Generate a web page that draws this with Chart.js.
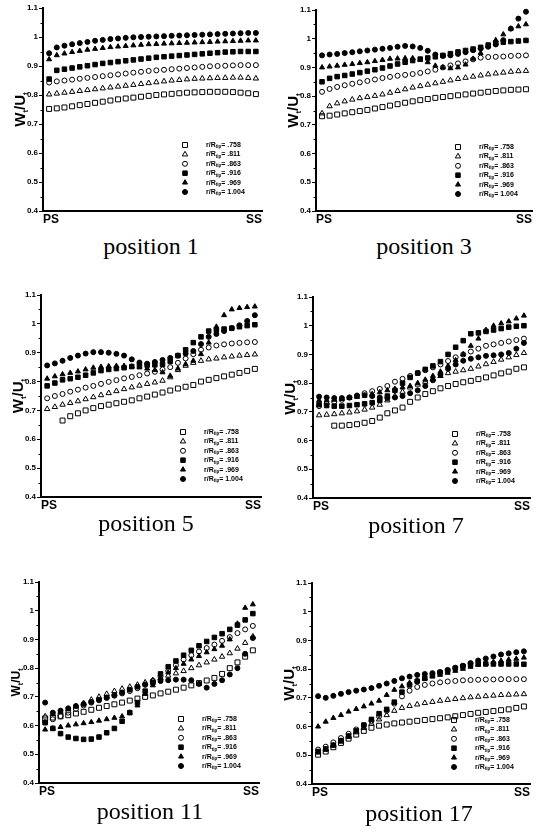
<!DOCTYPE html>
<html><head><meta charset="utf-8">
<script src="https://cdn.jsdelivr.net/npm/chart.js@4/dist/chart.umd.min.js"></script>
<style>
html,body{margin:0;padding:0;background:#fff;overflow:hidden;width:537px;height:833px;}
canvas{position:absolute;}
.cap{position:absolute;font-family:'Liberation Serif','Times New Roman',serif;font-size:24px;line-height:24px;color:#000;transform:translate(-50%,-50%);white-space:nowrap;}
</style></head><body>
<script>
// ---------- data ----------
const radii = ['.758', '.811', '.863', '.916', '.969', '1.004'];
const xTickLabels = ['PS', 'SS'];
const yTicks = [0.4, 0.5, 0.6, 0.7, 0.8, 0.9, 1.0, 1.1];
const yMinorTicks = [0.45, 0.55, 0.65, 0.75, 0.85, 0.95, 1.05];
const captions = ['position 1', 'position 3', 'position 5', 'position 7', 'position 11', 'position 17'];

const p1_758  = [0.752,0.754,0.757,0.761,0.765,0.769,0.773,0.777,0.781,0.785,0.788,0.791,0.794,0.797,0.8,0.802,0.804,0.806,0.808,0.809,0.81,0.811,0.811,0.811,0.81,0.808,0.806,0.803];
const p1_811  = [0.802,0.805,0.808,0.811,0.814,0.817,0.82,0.823,0.826,0.829,0.832,0.835,0.838,0.841,0.844,0.847,0.85,0.852,0.854,0.856,0.857,0.858,0.859,0.859,0.86,0.86,0.859,0.857];
const p1_863  = [0.843,0.847,0.85,0.853,0.856,0.859,0.862,0.865,0.868,0.871,0.874,0.877,0.88,0.883,0.885,0.887,0.889,0.891,0.893,0.895,0.897,0.899,0.9,0.901,0.902,0.903,0.903,0.903];
const p1_916  = [0.855,0.885,0.889,0.893,0.897,0.901,0.905,0.909,0.912,0.915,0.918,0.921,0.924,0.927,0.93,0.932,0.934,0.936,0.938,0.94,0.942,0.944,0.946,0.948,0.949,0.95,0.95,0.95];
const p1_969  = [0.923,0.937,0.943,0.948,0.952,0.956,0.959,0.962,0.965,0.967,0.969,0.971,0.973,0.975,0.976,0.977,0.978,0.979,0.98,0.981,0.982,0.983,0.984,0.985,0.986,0.987,0.988,0.988];
const p1_1004 = [0.944,0.964,0.97,0.975,0.979,0.983,0.987,0.99,0.993,0.995,0.997,0.999,1.0,1.001,1.002,1.003,1.004,1.005,1.006,1.007,1.008,1.009,1.01,1.011,1.012,1.013,1.014,1.014];

const p3_758  = [0.73,0.732,0.736,0.74,0.744,0.748,0.752,0.757,0.762,0.767,0.772,0.777,0.782,0.786,0.79,0.794,0.797,0.8,0.803,0.806,0.809,0.812,0.815,0.818,0.82,0.822,0.823,0.824];
const p3_811  = [0.74,0.765,0.775,0.782,0.788,0.793,0.797,0.801,0.806,0.812,0.818,0.824,0.83,0.835,0.84,0.845,0.85,0.855,0.86,0.864,0.868,0.872,0.876,0.879,0.882,0.885,0.887,0.888];
const p3_863  = [0.815,0.825,0.832,0.838,0.843,0.848,0.853,0.858,0.863,0.867,0.871,0.874,0.877,0.881,0.886,0.892,0.9,0.907,0.914,0.921,0.928,0.934,0.936,0.937,0.938,0.94,0.941,0.942];
const p3_916  = [0.85,0.862,0.868,0.872,0.877,0.882,0.887,0.892,0.898,0.905,0.912,0.918,0.924,0.929,0.933,0.937,0.942,0.948,0.954,0.959,0.964,0.97,0.978,0.985,0.988,0.99,0.992,0.994];
const p3_969  = [0.9,0.903,0.906,0.909,0.912,0.915,0.918,0.922,0.926,0.93,0.931,0.932,0.932,0.927,0.918,0.906,0.9,0.897,0.9,0.91,0.93,0.95,0.975,0.995,1.015,1.035,1.043,1.05];
const p3_1004 = [0.942,0.945,0.947,0.95,0.953,0.956,0.959,0.962,0.965,0.968,0.972,0.975,0.973,0.968,0.958,0.945,0.94,0.942,0.947,0.953,0.96,0.966,0.972,0.98,0.995,1.035,1.07,1.094];

const p5_758  = [null,null,0.665,0.68,0.69,0.7,0.708,0.715,0.72,0.725,0.73,0.735,0.742,0.748,0.755,0.762,0.769,0.776,0.782,0.788,0.8,0.806,0.812,0.818,0.824,0.83,0.837,0.844];
const p5_811  = [0.705,0.712,0.72,0.726,0.732,0.739,0.746,0.753,0.76,0.767,0.774,0.78,0.786,0.792,0.797,0.803,0.815,0.84,0.855,0.865,0.872,0.877,0.88,0.884,0.887,0.89,0.892,0.894];
const p5_863  = [0.742,0.75,0.757,0.765,0.772,0.779,0.785,0.792,0.799,0.805,0.811,0.816,0.822,0.828,0.834,0.842,0.85,0.865,0.88,0.895,0.91,0.918,0.925,0.929,0.932,0.934,0.936,0.937];
const p5_916  = [0.785,0.795,0.806,0.81,0.815,0.822,0.83,0.838,0.842,0.845,0.848,0.852,0.855,0.857,0.858,0.86,0.87,0.89,0.91,0.935,0.955,0.975,0.98,0.982,0.985,0.99,0.994,0.997];
const p5_969  = [0.81,0.818,0.825,0.83,0.835,0.842,0.848,0.851,0.853,0.854,0.854,0.852,0.849,0.845,0.84,0.832,0.82,0.845,0.86,0.872,0.895,0.935,0.99,1.03,1.05,1.055,1.058,1.06];
const p5_1004 = [0.856,0.863,0.872,0.882,0.89,0.897,0.902,0.902,0.9,0.896,0.89,0.877,0.866,0.862,0.868,0.875,0.882,0.89,0.897,0.906,0.93,0.955,0.965,0.975,0.985,0.995,1.01,1.03];

const p7_758  = [null,null,0.652,0.652,0.654,0.657,0.662,0.668,0.68,0.695,0.705,0.715,0.735,0.75,0.762,0.772,0.782,0.79,0.797,0.803,0.808,0.814,0.82,0.827,0.834,0.84,0.85,0.855];
const p7_811  = [0.688,0.69,0.692,0.695,0.698,0.702,0.708,0.715,0.725,0.74,0.755,0.77,0.785,0.795,0.805,0.815,0.825,0.835,0.84,0.845,0.85,0.858,0.866,0.874,0.882,0.89,0.898,0.905];
const p7_863  = [0.72,0.728,0.735,0.742,0.75,0.757,0.765,0.772,0.78,0.79,0.805,0.815,0.825,0.835,0.845,0.855,0.865,0.877,0.89,0.9,0.91,0.92,0.93,0.935,0.94,0.945,0.95,0.955];
const p7_916  = [0.725,0.722,0.72,0.72,0.722,0.725,0.728,0.732,0.74,0.755,0.775,0.8,0.82,0.835,0.848,0.86,0.875,0.9,0.925,0.948,0.972,0.975,0.98,0.985,0.99,0.995,0.998,1.0];
const p7_969  = [0.74,0.74,0.742,0.745,0.748,0.752,0.756,0.762,0.768,0.775,0.78,0.785,0.79,0.8,0.812,0.825,0.84,0.86,0.88,0.9,0.93,0.955,0.985,1.0,1.008,1.015,1.025,1.035];
const p7_1004 = [0.753,0.75,0.748,0.748,0.75,0.755,0.758,0.755,0.75,0.748,0.75,0.755,0.765,0.775,0.79,0.81,0.83,0.85,0.865,0.878,0.885,0.89,0.895,0.897,0.9,0.905,0.92,0.94];

const p11_758  = [0.625,0.628,0.632,0.636,0.642,0.648,0.655,0.662,0.668,0.674,0.68,0.687,0.694,0.7,0.705,0.712,0.718,0.725,0.732,0.74,0.748,0.757,0.766,0.78,0.8,0.82,0.84,0.862];
const p11_811  = [0.632,0.64,0.648,0.657,0.667,0.678,0.69,0.7,0.71,0.72,0.728,0.735,0.742,0.75,0.758,0.766,0.774,0.782,0.79,0.8,0.81,0.82,0.83,0.84,0.852,0.868,0.888,0.91];
const p11_863  = [0.612,0.622,0.633,0.645,0.658,0.67,0.68,0.688,0.696,0.704,0.712,0.72,0.73,0.742,0.756,0.772,0.79,0.81,0.83,0.845,0.858,0.87,0.882,0.895,0.908,0.922,0.935,0.947];
const p11_916  = [0.61,0.59,0.572,0.56,0.555,0.552,0.553,0.56,0.575,0.59,0.615,0.645,0.68,0.72,0.75,0.78,0.805,0.825,0.845,0.862,0.878,0.893,0.907,0.92,0.935,0.95,0.968,0.99];
const p11_969  = [0.586,0.59,0.595,0.6,0.604,0.608,0.612,0.617,0.622,0.627,0.632,0.645,0.67,0.71,0.74,0.765,0.785,0.8,0.815,0.83,0.842,0.855,0.866,0.878,0.9,0.955,1.01,1.022];
const p11_1004 = [0.68,0.645,0.652,0.66,0.668,0.675,0.682,0.69,0.698,0.706,0.715,0.725,0.735,0.743,0.75,0.755,0.758,0.76,0.76,0.758,0.745,0.732,0.745,0.758,0.778,0.8,0.85,0.905];

const p17_758  = [0.502,0.513,0.528,0.543,0.558,0.572,0.585,0.596,0.603,0.607,0.611,0.614,0.617,0.62,0.623,0.626,0.629,0.632,0.636,0.64,0.644,0.648,0.651,0.654,0.657,0.66,0.665,0.67];
const p17_811  = [0.51,0.52,0.535,0.55,0.565,0.58,0.595,0.61,0.625,0.64,0.655,0.665,0.672,0.677,0.682,0.686,0.69,0.693,0.696,0.699,0.702,0.704,0.706,0.708,0.71,0.711,0.712,0.713];
const p17_863  = [0.52,0.53,0.545,0.56,0.575,0.59,0.605,0.62,0.635,0.655,0.68,0.705,0.725,0.738,0.745,0.75,0.754,0.757,0.759,0.761,0.762,0.763,0.764,0.764,0.765,0.765,0.765,0.765];
const p17_916  = [0.513,0.522,0.535,0.55,0.567,0.585,0.605,0.625,0.645,0.66,0.685,0.72,0.745,0.758,0.768,0.778,0.788,0.795,0.803,0.81,0.816,0.818,0.818,0.818,0.818,0.818,0.818,0.817];
const p17_969  = [0.6,0.617,0.63,0.64,0.652,0.661,0.67,0.68,0.69,0.71,0.728,0.74,0.752,0.76,0.767,0.774,0.78,0.787,0.794,0.801,0.808,0.815,0.82,0.825,0.829,0.833,0.836,0.84];
const p17_1004 = [0.706,0.7,0.707,0.714,0.72,0.725,0.729,0.734,0.742,0.75,0.759,0.768,0.774,0.78,0.783,0.786,0.79,0.797,0.805,0.812,0.821,0.83,0.837,0.844,0.851,0.855,0.859,0.862];

const panelSeries = [
  [p1_758, p1_811, p1_863, p1_916, p1_969, p1_1004],
  [p3_758, p3_811, p3_863, p3_916, p3_969, p3_1004],
  [p5_758, p5_811, p5_863, p5_916, p5_969, p5_1004],
  [p7_758, p7_811, p7_863, p7_916, p7_969, p7_1004],
  [p11_758, p11_811, p11_863, p11_916, p11_969, p11_1004],
  [p17_758, p17_811, p17_863, p17_916, p17_969, p17_1004]
];

// ---------- layout / style ----------
const plotBoxes = [[43,8,263,211],[316,10,533,211],[41,295,262,497],[313,297,531,498],[39,582,260,783],[312,583,531,784]];
const capPos = [[151,246],[424,246],[146,523],[416,525],[150,811],[419,813]];
const titleSizes = [15,15,15,15,12,15];
const LEFT = 43, TOP = 8, BOTTOM = 19, RIGHT = 4;
const SANS = "'Liberation Sans', Arial, Helvetica, sans-serif";
const markerStyles = [
  {ps:'rect', r:3.5, fill:false},
  {ps:'triangle', r:3.1, fill:false},
  {ps:'circle', r:2.5, fill:false},
  {ps:'rect', r:3.2, fill:true},
  {ps:'triangle', r:2.9, fill:true},
  {ps:'circle', r:2.5, fill:true}
];

function drawMarker(ctx, st, x, y){
  ctx.beginPath();
  const r = st.r;
  if (st.ps === 'rect'){ const s = r*Math.SQRT1_2; ctx.rect(x-s, y-s, 2*s, 2*s); }
  else if (st.ps === 'triangle'){
    ctx.moveTo(x, y - r);
    ctx.lineTo(x + r*0.866, y + r*0.5);
    ctx.lineTo(x - r*0.866, y + r*0.5);
    ctx.closePath();
  } else { ctx.arc(x, y, r, 0, Math.PI*2); }
  ctx.lineWidth = 1; ctx.strokeStyle = '#000';
  if (st.fill){ ctx.fillStyle = '#000'; ctx.fill(); }
  ctx.stroke();
}

function drawParts(ctx, parts, x, y, align){
  let w = 0;
  parts.forEach(p => { ctx.font = p.font; w += ctx.measureText(p.t).width; });
  let cx = align === 'center' ? x - w/2 : x;
  parts.forEach(p => { ctx.font = p.font; ctx.fillText(p.t, cx, y + (p.dy||0)); cx += ctx.measureText(p.t).width; });
}

const decor = {
  id: 'decor',
  afterDraw(chart, args, opts){
    const ctx = chart.ctx, ys = chart.scales.y, a = chart.chartArea;
    ctx.save();
    ctx.strokeStyle = '#000'; ctx.lineWidth = 1;
    yMinorTicks.forEach(v => {
      const py = Math.round(ys.getPixelForValue(v)) + 0.5;
      ctx.beginPath(); ctx.moveTo(a.left - 2.5, py); ctx.lineTo(a.left, py); ctx.stroke();
    });
    const ts = opts.titleSize;
    ctx.save();
    ctx.translate(a.left - 22, (a.top + a.bottom)/2);
    ctx.rotate(-Math.PI/2);
    ctx.fillStyle = '#000'; ctx.textBaseline = 'middle';
    drawParts(ctx, [
      {t:'W', font:`bold ${ts}px ${SANS}`},
      {t:'t', font:`bold ${Math.round(ts*0.55)}px ${SANS}`, dy: ts*0.3},
      {t:'/U', font:`bold ${ts}px ${SANS}`},
      {t:'t', font:`bold ${Math.round(ts*0.55)}px ${SANS}`, dy: ts*0.3}
    ], 0, 0, 'center');
    ctx.restore();
    ctx.textBaseline = 'middle'; ctx.fillStyle = '#000';
    radii.forEach((lab, k) => {
      const mx = a.left + 142, my = a.top + 137 + k*9.4;
      drawMarker(ctx, markerStyles[k], mx, my);
      ctx.fillStyle = '#000';
      drawParts(ctx, [
        {t:'r/R', font:`bold 7px ${SANS}`},
        {t:'tip', font:`bold 4.5px ${SANS}`, dy: 2.2},
        {t:'= ' + lab, font:`bold 7px ${SANS}`}
      ], mx + 21, my, 'left');
    });
    ctx.restore();
  }
};

panelSeries.forEach((series, p) => {
  const [l, t, r, b] = plotBoxes[p];
  const cv = document.createElement('canvas');
  const W = (r - l) + LEFT + RIGHT, H = (b - t) + TOP + BOTTOM;
  cv.width = W; cv.height = H;
  cv.style.left = (l - LEFT) + 'px'; cv.style.top = (t - TOP) + 'px';
  cv.style.width = W + 'px'; cv.style.height = H + 'px';
  document.body.appendChild(cv);

  const cap = document.createElement('div');
  cap.className = 'cap'; cap.textContent = captions[p];
  cap.style.left = capPos[p][0] + 'px'; cap.style.top = capPos[p][1] + 'px';
  document.body.appendChild(cap);

  new Chart(cv, {
    type: 'scatter',
    data: {
      datasets: series.map((arr, k) => ({
        label: 'r/R = ' + radii[k],
        data: arr.map((v, i) => ({x: i, y: v})).filter(pt => pt.y !== null),
        pointStyle: markerStyles[k].ps,
        pointRadius: markerStyles[k].r,
        pointBorderWidth: 1,
        pointBorderColor: '#000',
        pointBackgroundColor: markerStyles[k].fill ? '#000' : 'rgba(0,0,0,0)',
        showLine: false,
        clip: false
      }))
    },
    options: {
      responsive: false, animation: false, events: [],
      layout: {padding: {left: 0, top: TOP, right: RIGHT, bottom: 0}},
      plugins: {legend: {display: false}, tooltip: {enabled: false}, decor: {titleSize: titleSizes[p]}},
      scales: {
        x: {
          type: 'linear', min: -0.8, max: 27.8,
          afterBuildTicks: s => { s.ticks = [{value: s.min}, {value: s.max}]; },
          ticks: {align: 'inner', callback: (v, i) => xTickLabels[i], autoSkip: false, maxRotation: 0,
                  font: {family: SANS, size: 12, weight: 'bold'}, color: '#000', padding: 1},
          grid: {display: false, drawTicks: false},
          border: {display: true, color: '#000', width: 2},
          afterFit: s => { s.height = BOTTOM; }
        },
        y: {
          type: 'linear', min: 0.4, max: 1.1,
          afterBuildTicks: s => { s.ticks = yTicks.map(v => ({value: v})); },
          ticks: {callback: v => String(+v.toFixed(1)), font: {family: SANS, size: 8, weight: 'bold'}, color: '#000', padding: 1, autoSkip: false},
          grid: {drawOnChartArea: false, drawTicks: true, tickLength: 4, color: '#000', lineWidth: 1},
          border: {display: true, color: '#000', width: 2},
          afterFit: s => { s.width = LEFT; }
        }
      }
    },
    plugins: [decor]
  });
});
</script>
</body></html>
